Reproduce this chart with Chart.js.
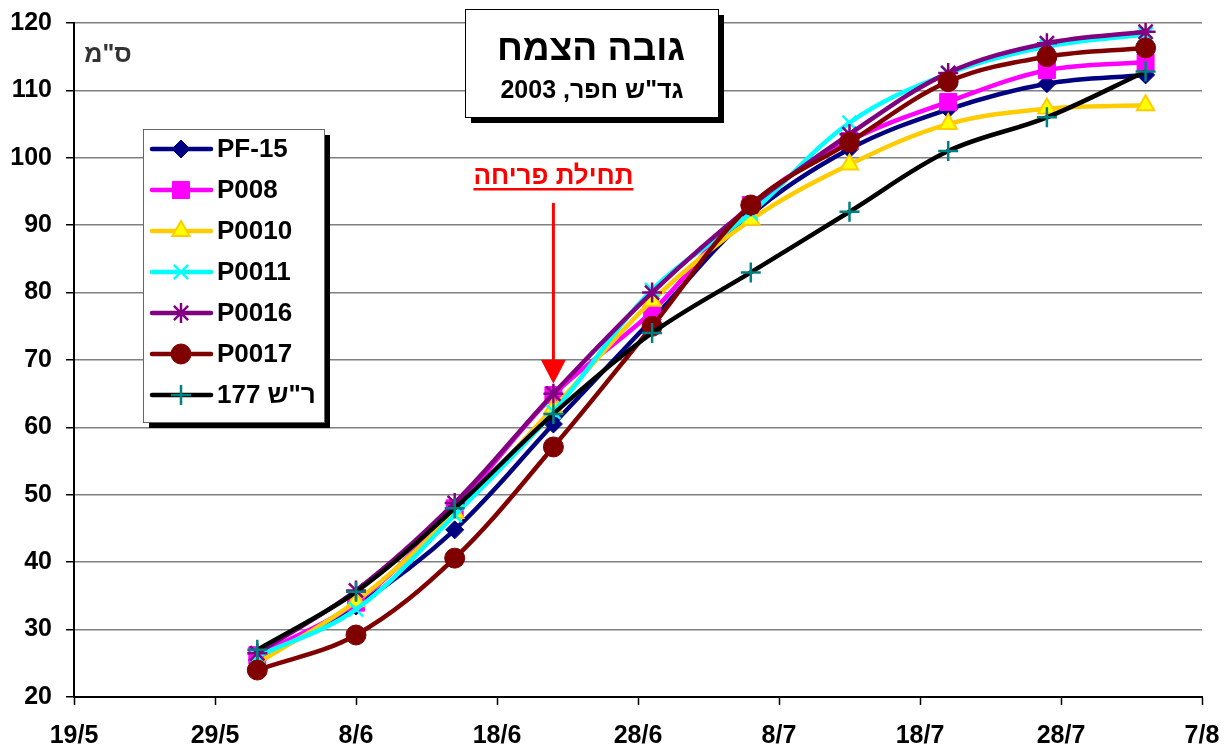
<!DOCTYPE html>
<html>
<head>
<meta charset="utf-8">
<script src="https://cdn.jsdelivr.net/npm/chart.js@4.4.0/dist/chart.umd.min.js"></script>
<style>
    html, body { margin: 0; padding: 0; background: #fff; }
    #wrap { width: 1228px; height: 751px; }
</style>
</head>
<body>
<div id="wrap"><canvas id="myChart"></canvas></div>
<script>
// measurement dates and axis ticks
const sampleDates = ["1/6", "8/6", "15/6", "22/6", "29/6", "6/7", "13/7", "20/7", "27/7", "3/8"]
const tickLabels = ["19/5", "29/5", "8/6", "18/6", "28/6", "8/7", "18/7", "28/7", "7/8"]
const yTicks = [20, 30, 40, 50, 60, 70, 80, 90, 100, 110, 120]

// plant height (cm) per line
const pf15 = [25.5, 33.5, 44.8, 60.5, 76.0, 91.5, 101.3, 107.2, 111.0, 112.3]
const p008 = [26.2, 34.0, 48.0, 64.8, 77.2, 93.0, 102.5, 108.3, 113.0, 114.2]
const p0010 = [25.0, 34.2, 47.3, 62.9, 78.8, 90.8, 99.0, 105.0, 107.3, 107.8]
const p0011 = [26.0, 33.0, 47.0, 62.3, 80.4, 91.8, 105.2, 112.5, 116.5, 118.3]
const p0016 = [26.5, 35.8, 48.8, 65.0, 80.0, 92.8, 103.5, 112.6, 117.0, 118.7]
const p0017 = [24.0, 29.2, 40.6, 57.1, 75.0, 93.0, 102.3, 111.3, 115.0, 116.3]
const rs177 = [27.0, 35.6, 48.0, 62.0, 74.0, 83.0, 92.0, 101.0, 106.0, 112.8]

const FONT = "Arial, 'Liberation Sans', 'DejaVu Sans', sans-serif"
const bloomDate = "22/6"

// days since 19/5
const toDay = (s) => {
    const [d, m] = s.split("/").map(Number)
    const monthStart = { 5: 0, 6: 31, 7: 61, 8: 92 }
    return monthStart[m] + d - 19
}

const makeSeries = (label, values, color, style) => ({
    label: label,
    data: values.map((v, i) => ({ x: toDay(sampleDates[i]), y: v })),
    borderColor: color,
    borderWidth: 4.5,
    tension: 0.35,
    pointStyle: style.shape,
    pointRadius: style.radius,
    pointBackgroundColor: style.fill,
    pointBorderColor: style.stroke,
    pointBorderWidth: style.width,
    pointHoverRadius: style.radius,
})

const datasets = [
    makeSeries("PF-15", pf15, "#000080", { shape: "rectRot", radius: 9, fill: "#000080", stroke: "#000080", width: 1 }),
    makeSeries("P008", p008, "#FF00FF", { shape: "rect", radius: 12, fill: "#FF00FF", stroke: "#FF00FF", width: 1 }),
    makeSeries("P0010", p0010, "#FFCC00", { shape: "triangle", radius: 10, fill: "#FFFF00", stroke: "#FFCC00", width: 2 }),
    makeSeries("P0011", p0011, "#00FFFF", { shape: "crossRot", radius: 10, fill: "#00FFFF", stroke: "#00FFFF", width: 2.5 }),
    makeSeries("P0016", p0016, "#800080", { shape: "star", radius: 10, fill: "#800080", stroke: "#800080", width: 2.5 }),
    makeSeries("P0017", p0017, "#800000", { shape: "circle", radius: 10, fill: "#800000", stroke: "#800000", width: 1 }),
    makeSeries('ר"ש 177', rs177, "#000000", { shape: "cross", radius: 10, fill: "#008080", stroke: "#008080", width: 2.5 }),
]
// later series sit on top, like the original
datasets.forEach((ds, i) => { ds.order = datasets.length - i })

const decor = {
    id: "decor",
    afterDraw(chart) {
        const ctx = chart.ctx
        const xs = chart.scales.x
        const ys = chart.scales.y
        ctx.save()

        // unit label
        ctx.direction = "rtl"
        ctx.fillStyle = "#333"
        ctx.font = "bold 25px " + FONT
        ctx.textAlign = "center"
        ctx.textBaseline = "middle"
        ctx.fillText('ס"מ', 108, 55)

        // title box
        ctx.fillStyle = "#000"
        ctx.fillRect(471, 15, 253, 108)
        ctx.fillStyle = "#fff"
        ctx.fillRect(465, 9, 253, 108)
        ctx.strokeStyle = "#000"
        ctx.lineWidth = 1
        ctx.strokeRect(465.5, 9.5, 253, 108)
        ctx.fillStyle = "#000"
        ctx.font = "bold 37px " + FONT
        ctx.fillText("גובה הצמח", 591, 50)
        ctx.font = "bold 25px " + FONT
        ctx.fillText('גד"ש חפר, 2003', 592, 91)

        // bloom annotation
        const ax = xs.getPixelForValue(toDay(bloomDate))
        const tipY = ys.getPixelForValue(p0016[sampleDates.indexOf(bloomDate)]) - 10
        ctx.fillStyle = "#FF0000"
        ctx.font = "bold 26px " + FONT
        ctx.fillText("תחילת פריחה", ax, 177)
        const tw = ctx.measureText("תחילת פריחה").width
        ctx.fillRect(ax - tw / 2, 188, tw, 2.5)
        ctx.strokeStyle = "#FF0000"
        ctx.lineWidth = 3
        ctx.beginPath()
        ctx.moveTo(ax, 203)
        ctx.lineTo(ax, tipY - 20)
        ctx.stroke()
        ctx.beginPath()
        ctx.moveTo(ax - 12.5, tipY - 24)
        ctx.lineTo(ax + 12.5, tipY - 24)
        ctx.lineTo(ax, tipY)
        ctx.closePath()
        ctx.fill()

        // legend
        const lx = 143, ly = 129, lw = 181, lh = 293
        ctx.fillStyle = "#000"
        ctx.fillRect(lx + 6, ly + 6, lw, lh)
        ctx.fillStyle = "#fff"
        ctx.fillRect(lx, ly, lw, lh)
        ctx.strokeStyle = "#666"
        ctx.lineWidth = 1
        ctx.strokeRect(lx + 0.5, ly + 0.5, lw, lh)
        chart.data.datasets.forEach((ds, i) => {
            const cy = 149 + i * 41
            ctx.strokeStyle = ds.borderColor
            ctx.lineWidth = ds.borderWidth
            ctx.lineCap = "round"
            ctx.beginPath()
            ctx.moveTo(152, cy)
            ctx.lineTo(211, cy)
            ctx.stroke()
            ctx.lineCap = "butt"
            ctx.fillStyle = ds.pointBackgroundColor
            ctx.strokeStyle = ds.pointBorderColor
            ctx.lineWidth = ds.pointBorderWidth
            Chart.helpers.drawPoint(ctx, {
                pointStyle: ds.pointStyle,
                radius: ds.pointRadius,
                borderWidth: ds.pointBorderWidth,
                rotation: 0,
            }, 181, cy)
            ctx.fillStyle = "#000"
            ctx.font = "bold 26px " + FONT
            ctx.textBaseline = "middle"
            if (/[\u0590-\u05FF]/.test(ds.label)) {
                ctx.direction = "rtl"
                ctx.textAlign = "right"
                ctx.fillText(ds.label, 217 + ctx.measureText(ds.label).width, cy + 1)
            } else {
                ctx.direction = "ltr"
                ctx.textAlign = "left"
                ctx.fillText(ds.label, 217, cy + 1)
            }
        })
        ctx.restore()
    }
}

const config = {
    type: "line",
    data: { datasets: datasets },
    options: {
        responsive: false,
        animation: false,
        events: [],
        layout: { padding: { top: 23, right: 26, left: 0, bottom: 0 } },
        plugins: {
            legend: { display: false },
            tooltip: { enabled: false },
        },
        scales: {
            x: {
                type: "linear",
                min: toDay(tickLabels[0]),
                max: toDay(tickLabels[tickLabels.length - 1]),
                afterBuildTicks: (axis) => { axis.ticks = tickLabels.map(t => ({ value: toDay(t) })) },
                afterFit: (scale) => {
                    scale.height = 54
                    scale.paddingLeft = 0
                    scale.paddingRight = 0
                },
                grid: { drawOnChartArea: false, drawTicks: true, tickLength: 8, tickColor: "#000", tickWidth: 1.5 },
                border: { color: "#000", width: 2 },
                ticks: {
                    callback: (v, i) => tickLabels[i],
                    color: "#000",
                    font: { family: FONT, size: 25, weight: "bold" },
                    padding: 16,
                    maxRotation: 0,
                    autoSkip: false,
                },
            },
            y: {
                min: yTicks[0],
                max: yTicks[yTicks.length - 1],
                afterBuildTicks: (axis) => { axis.ticks = yTicks.map(v => ({ value: v })) },
                afterFit: (scale) => {
                    scale.width = 74
                    scale.paddingTop = 0
                    scale.paddingBottom = 0
                },
                grid: { color: "#808080", lineWidth: 1.5, drawTicks: true, tickLength: 8, tickColor: "#000", tickWidth: 1.5 },
                border: { color: "#000", width: 2 },
                ticks: {
                    color: "#000",
                    font: { family: FONT, size: 25, weight: "bold" },
                    padding: 14,
                },
            },
        },
    },
    plugins: [decor],
}

const canvas = document.querySelector("#myChart")
canvas.width = 1228
canvas.height = 751
new Chart(canvas, config)
</script>
</body>
</html>
